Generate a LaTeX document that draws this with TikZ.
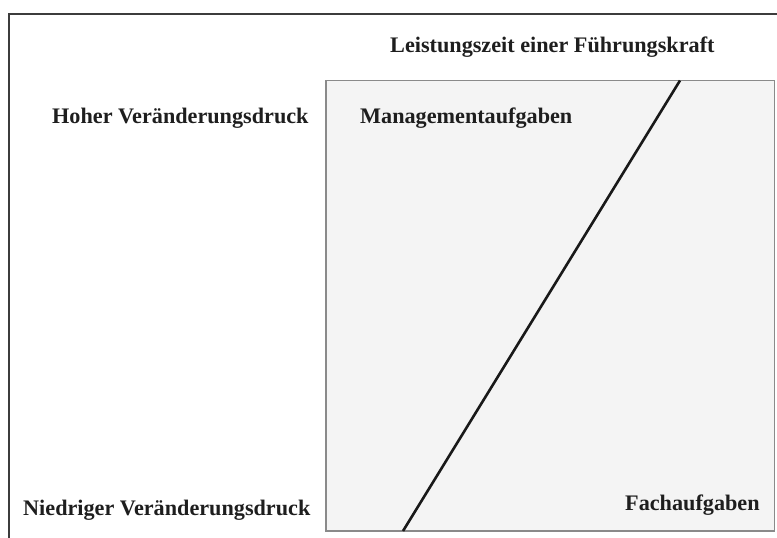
\documentclass[tikz,border=0pt]{standalone}
\usepackage{fontspec}
\setmainfont{Liberation Serif}
\definecolor{frame}{HTML}{3C3C3C}
\definecolor{boxline}{HTML}{8A8A8A}
\definecolor{boxfill}{HTML}{F4F4F4}
\definecolor{txt}{HTML}{1E1E1E}
\begin{document}
\begin{tikzpicture}[x=1pt,y=-1pt,
  lbl/.style={font=\bfseries\fontsize{22.2}{25}\selectfont, text=txt, inner sep=0pt, anchor=base west}]
\useasboundingbox (0,0) rectangle (777,538);
\clip (0,0) rectangle (777,538);
\draw[frame, line width=2pt] (8.5,14) rectangle (800,560);
\draw[boxline, fill=boxfill, line width=1.5pt] (326,80.5) rectangle (774.5,531);
\coordinate (lowend) at (403,531);
\coordinate (topend) at (680,80.5);
\draw[black!90, line width=2.6pt] (lowend) -- (topend);
\node[lbl] (leist) at (390,52) {Leistungszeit einer Führungskraft};
\node[lbl] (hoher) at (52,123) {Hoher Veränderungsdruck};
\node[lbl] (mgmt) at (360,123) {Managementaufgaben};
\node[lbl] (niedr) at (23,515) {Niedriger Veränderungsdruck};
\node[lbl] (fach) at (625,510) {Fachaufgaben};
\end{tikzpicture}
\end{document}
